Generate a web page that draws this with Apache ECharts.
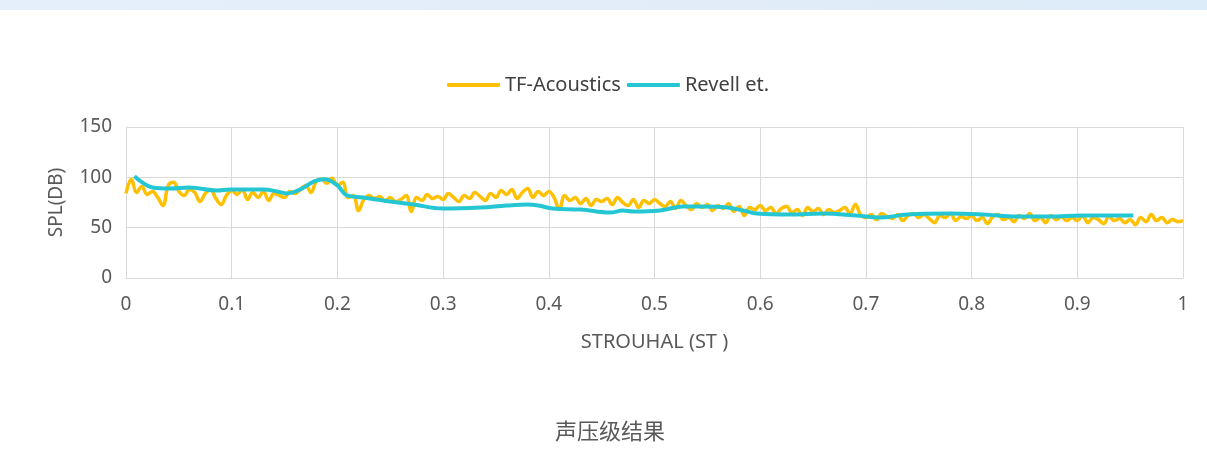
<!DOCTYPE html>
<html>
<head>
<meta charset="utf-8">
<script src="https://cdn.jsdelivr.net/npm/echarts@6/dist/echarts.min.js"></script>
<style>
html,body{margin:0;padding:0;background:#fff;}
#band{position:absolute;left:0;top:0;width:1207px;height:10px;background:linear-gradient(90deg,#e4effb,#e1ecf8 60%,#dcecf8);}
#chart{position:absolute;left:0;top:0;width:1207px;height:475px;}
</style>
</head>
<body>
<div id="band"></div>
<div id="chart"></div>
<script>
// x step for TF-Acoustics samples
const tfStep = 0.005;
const tfValues = [
  84, 98, 85, 91, 83, 86, 80, 72, 92, 95,
  86, 82, 88, 85, 76, 84, 88, 79, 73, 82,
  87, 83, 88, 78, 85, 80, 86, 77, 84, 82,
  80, 86, 84, 88, 92, 85, 96, 98, 94, 99,
  92, 95, 80, 82, 67, 78, 82, 79, 81, 77,
  80, 76, 78, 82, 66, 80, 77, 83, 79, 81,
  78, 84, 80, 76, 82, 79, 85, 81, 77, 84,
  80, 87, 83, 88, 79, 85, 89, 80, 86, 82,
  86, 80, 68, 82, 77, 80, 74, 79, 72, 78,
  76, 79, 73, 80, 75, 72, 78, 70, 77, 74,
  78, 74, 71, 76, 69, 77, 72, 68, 74, 70,
  73, 67, 72, 69, 74, 66, 71, 62, 70, 68,
  72, 67, 70, 64, 69, 71, 65, 68, 62, 70,
  66, 69, 63, 68, 65, 67, 70, 64, 73, 63,
  60, 63, 58, 64, 61, 59, 63, 57, 62, 64,
  60, 63, 59, 55, 62, 60, 64, 57, 61, 59,
  62, 57, 60, 54, 61, 63, 58, 60, 56, 62,
  59, 64, 57, 60, 55, 62, 58, 61, 57, 60,
  57, 62, 55, 60, 58, 54, 61, 57, 59, 55,
  58, 53, 60, 56, 63, 57, 60, 55, 58, 56,
  57
];
const revellX = [0.008, 0.014, 0.025, 0.042, 0.06, 0.086, 0.098, 0.13, 0.143, 0.152, 0.165, 0.178, 0.188, 0.2, 0.209, 0.224, 0.237, 0.25, 0.272, 0.3, 0.335, 0.36, 0.38, 0.39, 0.404, 0.43, 0.458, 0.47, 0.48, 0.505, 0.527, 0.543, 0.569, 0.584, 0.597, 0.628, 0.659, 0.691, 0.713, 0.739, 0.78, 0.811, 0.843, 0.874, 0.905, 0.953];
const revellY = [101, 96, 90, 89, 90, 87, 88, 88, 86, 84, 88, 96, 98, 92, 82, 80, 78, 76, 73, 69, 70, 72, 73, 72, 69, 68, 65, 67, 66, 67, 71, 71, 70, 67, 64, 63, 64, 62, 60, 63, 64, 63, 61, 61, 62, 62];
const xTicks = {min: 0, max: 1, interval: 0.1};
const yTicks = {min: 0, max: 150, interval: 50};
const seriesNames = ['TF-Acoustics', 'Revell et.'];
const chartTitle = '声压级结果';
const xName = 'STROUHAL (ST )';
const yName = 'SPL(DB)';

const tfData = tfValues.map((v, i) => [+(i * tfStep).toFixed(3), v]);
const revellData = revellX.map((x, i) => [x, revellY[i]]);

const chart = echarts.init(document.getElementById('chart'));
const gridColor = '#d9d9d9';
const labelColor = '#595959';
const font = '"Noto Sans", "Noto Sans CJK SC", sans-serif';
chart.setOption({
  backgroundColor: 'transparent',
  animation: false,
  title: {
    text: chartTitle, left: 550, top: 415,
    textStyle: {fontSize: 22, fontWeight: 'normal', color: labelColor, fontFamily: '"Noto Sans CJK SC", sans-serif'}
  },
  legend: {
    top: 70, left: 442, itemWidth: 53, itemHeight: 4, itemGap: 6,
    icon: 'roundRect',
    textStyle: {fontSize: 20, color: '#404040', fontFamily: font},
    data: seriesNames
  },
  grid: {left: 126, right: 24, top: 127, bottom: 197, containLabel: false},
  xAxis: {
    type: 'value', min: xTicks.min, max: xTicks.max, interval: xTicks.interval,
    name: xName, nameLocation: 'middle', nameGap: 54,
    nameTextStyle: {fontSize: 20, color: labelColor, fontFamily: font},
    axisLine: {show: true, lineStyle: {color: gridColor}},
    axisTick: {show: false},
    axisLabel: {fontSize: 19, color: labelColor, margin: 17, fontFamily: font},
    splitLine: {show: true, lineStyle: {color: gridColor}}
  },
  yAxis: {
    type: 'value', min: yTicks.min, max: yTicks.max, interval: yTicks.interval,
    name: yName, nameLocation: 'middle', nameGap: 60, nameRotate: 90,
    nameTextStyle: {fontSize: 19, color: labelColor, fontFamily: font},
    axisLine: {show: true, lineStyle: {color: gridColor}},
    axisTick: {show: false},
    axisLabel: {fontSize: 19, color: labelColor, margin: 14, fontFamily: font},
    splitLine: {show: true, lineStyle: {color: gridColor}}
  },
  series: [
    {
      name: seriesNames[0], type: 'line', data: tfData, smooth: 0.4,
      showSymbol: false, symbol: 'none',
      lineStyle: {color: '#ffc000', width: 3.5}, itemStyle: {color: '#ffc000'}
    },
    {
      name: seriesNames[1], type: 'line', data: revellData, smooth: 0.4,
      showSymbol: false, symbol: 'none',
      lineStyle: {color: '#24c6d4', width: 4}, itemStyle: {color: '#24c6d4'}
    }
  ]
});
</script>
</body>
</html>
